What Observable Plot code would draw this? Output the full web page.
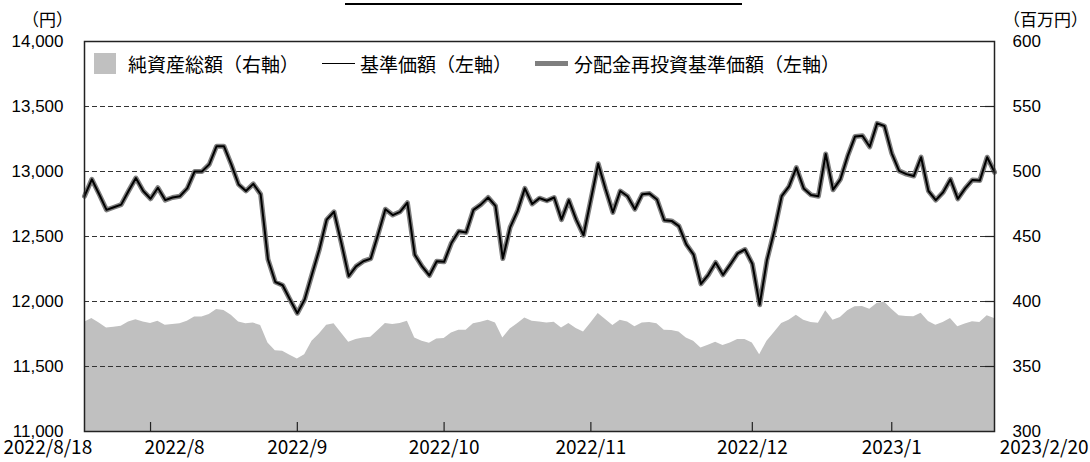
<!DOCTYPE html>
<html><head><meta charset="utf-8">
<script src="https://cdn.jsdelivr.net/npm/d3@7"></script>
<script src="https://cdn.jsdelivr.net/npm/@observablehq/plot@0.6"></script>
<style>
body{margin:0;background:#fff;}
#wrap{position:relative;width:1090px;height:462px;overflow:hidden;font-family:"Noto Sans CJK JP",sans-serif;color:#000;}
#wrap svg{position:absolute;left:0;top:0;}
.ov{position:absolute;white-space:nowrap;line-height:1;}
#title{left:345px;width:397px;top:-16px;height:19px;border-bottom:2px solid #000;text-align:center;font-size:19px;overflow:hidden;}
#title span{position:relative;top:-4px;}
.unit{font-size:17px;top:10px;}
.leg{font-size:19px;top:54px;}
</style></head><body><div id="wrap">
<div class="ov" id="title"><span>基準価額（分配金再投資）・純資産総額の推移</span></div>
<div class="ov unit" style="left:22px;">（円）</div>
<div class="ov unit" style="left:1003px;">（百万円）</div>
<div class="ov" style="left:94px;top:53px;width:22px;height:21px;background:#c0c0c0;"></div>
<div class="ov leg" style="left:128px;">純資産総額（右軸）</div>
<div class="ov" style="left:322px;top:63px;width:33px;height:0;border-top:1.5px solid #000;"></div>
<div class="ov leg" style="left:360px;">基準価額（左軸）</div>
<div class="ov" style="left:535px;top:61px;width:33px;height:5px;background:#7f7f7f;"></div>
<div class="ov leg" style="left:574px;">分配金再投資基準価額（左軸）</div>
</div>
<script>
// 基準価額 (円), daily business days 2022/8/18 - 2023/2/20
const nav = [
12810,12940,12825,12705,12725,12745,12850,12950,12850,12790,
12875,12780,12800,12810,12870,13000,13000,13055,13195,13195,
13055,12900,12850,12905,12825,12325,12150,12125,12015,11910,
12015,12210,12400,12630,12690,12450,12195,12270,12310,12330,
12515,12710,12665,12690,12760,12360,12270,12200,12310,12305,
12450,12540,12530,12705,12745,12800,12735,12330,12570,12695,
12870,12750,12795,12775,12800,12630,12780,12630,12510,12785,
13060,12865,12685,12850,12810,12710,12825,12830,12785,12625,
12620,12580,12440,12360,12135,12205,12300,12205,12285,12370,
12400,12290,11975,12320,12545,12810,12885,13030,12870,12820,
12810,13135,12860,12940,13120,13270,13275,13190,13370,13350,
13140,13005,12980,12965,13110,12850,12780,12840,12940,12790,
12870,12935,12930,13110,12995];
// 分配金再投資基準価額 (円) — identical to 基準価額 (no distributions)
const navReinvested = nav.slice();
// 純資産総額 (百万円)
const assets = [
384,387,383.5,379.7,380.2,381,384.3,386,384.3,383,
384.8,381.7,382.3,382.8,384.8,388,388,390,393.8,393,
389.5,384.3,382.8,383.5,381.5,368,362.2,361.7,358.6,355.8,
359,369.4,375,381.7,382.8,375.8,368.6,370.7,372,372.5,
377.6,383,382.3,383,384.8,372,369.4,367.9,371.2,371.5,
375.8,377.9,377.9,382.8,384.1,385.6,383.5,372,378.9,382.8,
387.4,384.8,384.2,383.5,384.1,379.7,383,379.2,376.6,383.5,
390.7,386.1,381.5,385.6,384.3,380.5,383.5,383.8,382.8,377.9,
377.6,376.6,372,369.4,364.3,366.3,368.6,366.1,368.1,370.7,
370.7,368.1,359.1,369.5,376.2,383.1,385.6,389.5,385.6,383.8,
383.3,392.8,385.6,387.7,392.8,395.9,396.2,394.1,398.5,399.7,
394.1,389,388.5,388.2,391,384.6,381.8,383.8,386.9,380.5,
382.6,384.4,383.8,389,386.9];

const leftTicks = [11000,11500,12000,12500,13000,13500,14000];
const rightTicks = [300,350,400,450,500,550,600];
const xTickIndex = [0,9,29,49,69,91,110,124];
const xTickLabels = ["2022/8/18","2022/8","2022/9","2022/10","2022/11","2022/12","2023/1","2023/2/20"];

const lMin = leftTicks[0], lMax = leftTicks[leftTicks.length-1];
const rMin = rightTicks[0], rMax = rightTicks[rightTicks.length-1];
const k = (lMax - lMin) / (rMax - rMin);
const toLeft = v => lMin + (v - rMin) * k;
const fromLeft = v => Math.round(rMin + (v - lMin) / k);

const idx = (d, i) => i;
const lab = xTickIndex.map((x, i) => ({x, label: xTickLabels[i]}));
const labFont = {fontFamily: "'Noto Sans CJK JP', sans-serif", fontSize: 19, frameAnchor: "bottom", dy: 22, fill: "#000"};

const chart = Plot.plot({
  width: 1090, height: 462,
  marginLeft: 84, marginRight: 96, marginTop: 41, marginBottom: 31,
  style: {background: "transparent", color: "#000", overflow: "visible"},
  x: {type: "linear", domain: [0, nav.length - 1], axis: null},
  y: {domain: [lMin, lMax]},
  marks: [
    Plot.areaY(assets, {x: idx, y1: lMin, y2: d => toLeft(d), fill: "#c0c0c0"}),
    Plot.ruleY(leftTicks.slice(1, -1), {stroke: "#333", strokeWidth: 1, strokeDasharray: "5,3"}),
    Plot.lineY(navReinvested, {x: idx, y: d => d, stroke: "#7f7f7f", strokeWidth: 5}),
    Plot.lineY(nav, {x: idx, y: d => d, stroke: "#000", strokeWidth: 2}),
    Plot.tickX(xTickIndex.slice(1, -1), {x: d => d, stroke: "#222", strokeWidth: 1.2, insetTop: 381}),
    Plot.tickY(rightTicks.slice(1, -1).map(toLeft), {y: d => d, stroke: "#222", strokeWidth: 1.2, insetLeft: 901}),
    Plot.frame({stroke: "#222", strokeWidth: 1.5}),
    Plot.axisY(leftTicks, {anchor: "left", tickSize: 0, tickPadding: 21, tickFormat: d3.format(","), fontFamily: "'Liberation Sans', Arial, sans-serif", fontSize: 17, fill: "#000"}),
    Plot.axisY(rightTicks.map(toLeft), {anchor: "right", tickSize: 0, tickPadding: 18, tickFormat: d => String(fromLeft(d)), fontFamily: "'Liberation Sans', Arial, sans-serif", fontSize: 17, fill: "#000"}),
    Plot.text(lab.slice(2, -1), {x: "x", text: "label", ...labFont}),
    Plot.text(lab.slice(1, 2), {x: "x", text: "label", dx: 24, ...labFont}),
    Plot.text(lab.slice(0, 1), {x: "x", text: "label", textAnchor: "start", dx: -81, ...labFont}),
    Plot.text(lab.slice(-1), {x: "x", text: "label", textAnchor: "end", dx: 94, ...labFont})
  ]
});
document.getElementById("wrap").prepend(chart);
</script></body></html>
